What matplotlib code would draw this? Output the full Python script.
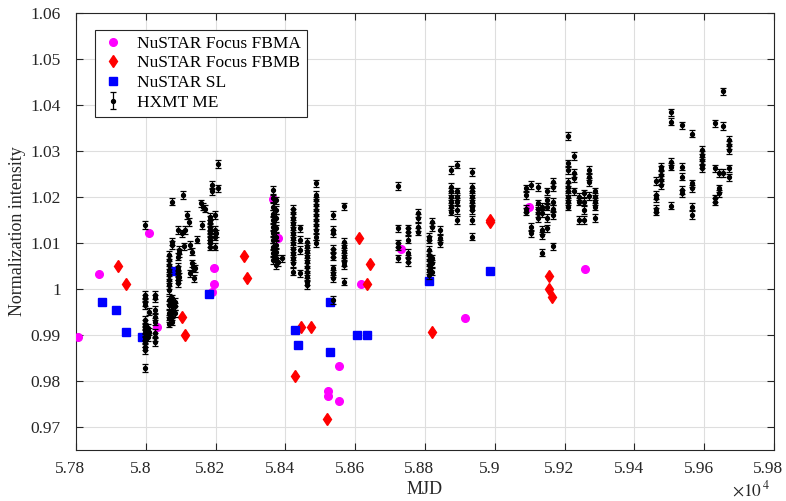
import numpy as np
import matplotlib
matplotlib.use("Agg")
import matplotlib.pyplot as plt
import matplotlib.transforms as mtransforms
from matplotlib.ticker import FuncFormatter

plt.rcParams['font.family'] = ['Liberation Serif', 'DejaVu Serif']
plt.rcParams['mathtext.fontset'] = 'stix'

# NuSTAR Focus FBMA
fbma_mjd = [57805, 57867, 58009, 58031, 58196, 58196, 58189, 58365, 58380,
            58523, 58523, 58554, 58554, 58618, 58730, 58915, 59097, 59259]
fbma_int = [0.9895, 1.0033, 1.0122, 0.9917, 1.0045, 1.0011, 0.9994, 1.0195, 1.011,
            0.9778, 0.9767, 0.9757, 0.9833, 1.0011, 1.0088, 0.9938, 1.0178, 1.0044]

# NuSTAR Focus FBMB
fbmb_mjd = [57920, 57943, 58105, 58112, 58280, 58289, 58427, 58444, 58474, 58520,
            58611, 58635, 58642, 58819, 58987, 58987, 59156, 59156, 59165]
fbmb_int = [1.005, 1.0011, 0.9939, 0.99, 1.0072, 1.0023, 0.9811, 0.9917, 0.9917, 0.9717,
            1.0111, 1.0011, 1.0055, 0.9906, 1.0149, 1.0145, 1.0028, 1.0, 0.9983]

# NuSTAR SL
sl_mjd = [57874, 57914, 57943, 57988, 58079, 58181, 58427, 58435, 58528, 58528,
          58604, 58635, 58811, 58987]
sl_int = [0.9972, 0.9955, 0.9906, 0.9895, 1.0039, 0.999, 0.9911, 0.9878, 0.9972, 0.9862,
          0.99, 0.99, 1.0017, 1.0039]

# HXMT ME: epochs and the intensities observed around each epoch
me_epochs = [57997, 58005, 58010, 58026, 58067, 58074, 58084, 58093, 58096, 58103,
             58107, 58110, 58112, 58117, 58124, 58127, 58131, 58133, 58136, 58139,
             58141, 58146, 58157, 58160, 58165, 58170, 58184, 58189, 58198, 58201,
             58206, 58208,
             58364, 58373, 58380, 58389, 58421, 58442, 58463, 58487, 58535, 58569,
             58723, 58752, 58781, 58812, 58821, 58843, 58874, 58892, 58934,
             59089, 59104, 59123, 59134, 59149, 59166, 59209, 59227, 59242, 59255,
             59271, 59287,
             59461, 59476, 59505, 59536, 59565, 59594, 59631, 59643, 59655, 59670]
me_groups = [
    [1.0139, 0.9987, 0.998, 0.9972, 0.9965, 0.9933, 0.9925, 0.9918, 0.9911, 0.9904,
     0.9896, 0.9889, 0.9882, 0.9875, 0.9867, 0.9828],
    [0.9915, 0.9895],
    [0.9951, 0.9907],
    [0.9987, 0.998, 0.9954, 0.994, 0.9929, 0.9904, 0.9896, 0.9885],
    [1.0074, 1.0063, 1.0052, 1.0041, 1.003, 1.002, 1.0009, 0.9998, 0.9976, 0.9965,
     0.9947, 0.9936, 0.9925],
    [1.019, 1.0103, 1.0096, 0.998, 0.9969, 0.9962, 0.9954, 0.994, 0.9929],
    [0.9972, 0.9962, 0.9947],
    [1.0128, 1.0048, 1.0041, 1.0034, 1.0027, 1.002, 1.0012, 1.007],
    [1.0085, 1.0078, 1.0027],
    [1.0121],
    [1.0204],
    [1.0093],
    [1.0128],
    [1.0161],
    [1.0146],
    [1.0096, 1.0034],
    [1.0081],
    [1.0056],
    [1.0048],
    [1.0023],
    [1.0045],
    [1.0107],
    [1.0186],
    [1.0139],
    [1.0179],
    [1.0175],
    [1.0157, 1.015, 1.0143, 1.0135, 1.0128, 1.0121, 1.0114, 1.0107, 1.0099, 1.0092],
    [1.0226, 1.0212],
    [1.0161, 1.0128, 1.0114, 1.0092],
    [1.0121],
    [1.0272],
    [1.0219],
    [1.0215, 1.0197, 1.0179, 1.0164, 1.015, 1.0135, 1.0121, 1.0107, 1.0092, 1.0078, 1.0063],
    [1.0193, 1.0172, 1.0154, 1.0132, 1.0114, 1.0096, 1.0081, 1.0067, 1.0052],
    [1.0059],
    [1.0067],
    [1.0175, 1.0165, 1.0154, 1.0143, 1.0132, 1.0121, 1.011, 1.0099, 1.0088, 1.0078,
     1.0067, 1.0056, 1.0038],
    [1.0132, 1.0107, 1.0085, 1.0034],
    [1.0103, 1.0092, 1.0081, 1.007, 1.0059, 1.0048, 1.0038, 1.0027, 1.0016, 1.0009],
    [1.023, 1.0204, 1.0193, 1.0183, 1.0172, 1.0161, 1.015, 1.0139, 1.0128, 1.0114, 1.0099],
    [1.0161, 1.0128, 1.0121, 1.0088, 1.0078, 1.007, 1.0045, 1.0034, 1.0023, 0.9976],
    [1.018, 1.0103, 1.0092, 1.0081, 1.007, 1.0059, 1.0052, 1.0016],
    [1.0224, 1.0132, 1.0099, 1.0092, 1.0067],
    [1.0132, 1.0125, 1.0107, 1.0078, 1.0067, 1.0059],
    [1.0165, 1.0154, 1.0135, 1.0125],
    [1.0114, 1.0107, 1.0085, 1.0074, 1.0063, 1.0052, 1.0041, 1.003],
    [1.0146, 1.0135, 1.0067, 1.0056, 1.0038],
    [1.0128, 1.011, 1.0099],
    [1.0259, 1.0222, 1.0212, 1.0201, 1.019, 1.0179, 1.0168],
    [1.027, 1.0212, 1.0201, 1.019, 1.0172, 1.015],
    [1.0254, 1.0222, 1.0212, 1.0201, 1.019, 1.0179, 1.0172, 1.015, 1.0114],
    [1.0219, 1.0204, 1.0175, 1.0168],
    [1.0226, 1.0135, 1.0121],
    [1.0222, 1.0186, 1.0175, 1.0165, 1.0154],
    [1.0179, 1.0165, 1.0128, 1.0117, 1.0079],
    [1.0212, 1.0193, 1.0179, 1.0154, 1.0132],
    [1.0233, 1.0222, 1.019, 1.0175, 1.0161, 1.0093],
    [1.0333, 1.0273, 1.0259, 1.0233, 1.0222, 1.0212, 1.0201, 1.019, 1.0179],
    [1.0289, 1.0252, 1.0241, 1.0212],
    [1.0201, 1.019, 1.015],
    [1.0208, 1.019, 1.0172, 1.015],
    [1.0259, 1.0244, 1.0233, 1.0202],
    [1.0212, 1.0201, 1.019, 1.0179, 1.0154],
    [1.0235, 1.0204, 1.0197, 1.0175, 1.0168],
    [1.0266, 1.0259, 1.0248, 1.0237, 1.0226],
    [1.0384, 1.0364, 1.0277, 1.0266, 1.0181],
    [1.0356, 1.0266, 1.0244, 1.0215, 1.0208],
    [1.0338, 1.023, 1.0219, 1.0179, 1.0161],
    [1.0302, 1.0291, 1.028, 1.027, 1.0262],
    [1.036, 1.0262, 1.0197, 1.019],
    [1.0252, 1.0219, 1.0208],
    [1.043, 1.0354, 1.0252],
    [1.0324, 1.0313, 1.0302, 1.0262, 1.0243],
]
me_err = 0.0008

me_mjd = np.repeat(me_epochs, [len(g) for g in me_groups])
me_int = np.concatenate(me_groups)

scale = 1e4
axcol = (0.15, 0.15, 0.15)

fig = plt.figure(figsize=(7.86, 5.01), dpi=100)
ax = fig.add_axes([0.0967, 0.1018, 0.8880, 0.8722])

ax.plot(np.array(fbma_mjd) / scale, fbma_int, 'o', color='magenta', ms=5.5,
        mec='magenta', label='NuSTAR Focus FBMA', zorder=3)
ax.plot(np.array(fbmb_mjd) / scale, fbmb_int, 'd', color='red', ms=6.5,
        mec='red', label='NuSTAR Focus FBMB', zorder=3)
ax.plot(np.array(sl_mjd) / scale, sl_int, 's', color='blue', ms=5.5,
        mec='blue', label='NuSTAR SL', zorder=3)
ax.errorbar(me_mjd / scale, me_int, yerr=me_err, fmt='o', color='black',
            ms=2.8, elinewidth=0.9, capsize=2, capthick=0.9,
            label='HXMT ME', zorder=4)

ax.set_xlim(5.78, 5.98)
ax.set_ylim(0.965, 1.06)
ax.set_xticks(np.arange(5.78, 5.981, 0.02))
ax.set_yticks(np.arange(0.97, 1.0601, 0.01))
fmt = FuncFormatter(lambda v, p: '%g' % round(v, 4))
ax.xaxis.set_major_formatter(fmt)
ax.yaxis.set_major_formatter(fmt)

ax.grid(True, color=(0.87, 0.87, 0.87), linewidth=0.8)
ax.set_axisbelow(True)
ax.tick_params(direction='in', top=True, right=True, length=5, width=0.8,
               colors=axcol, labelsize=12.5, labelcolor=axcol)
ax.tick_params(axis='x', pad=8)
ax.tick_params(axis='y', pad=11)
for s in ax.spines.values():
    s.set_color(axcol)
    s.set_linewidth(0.8)

# x tick labels sit slightly left of their ticks, as in the original
shift = mtransforms.ScaledTranslation(-4 / 72, 0, fig.dpi_scale_trans)
for lab in ax.get_xticklabels():
    lab.set_transform(lab.get_transform() + shift)

ax.set_xlabel('MJD', fontsize=13, color=axcol, labelpad=3)
ax.set_ylabel('Normalization intensity', fontsize=13, color=axcol, labelpad=3)
ax.text(0.994, -0.092, r'$\times 10^{\,4}$', transform=ax.transAxes,
        ha='right', va='center', fontsize=12.5, color=axcol)

leg = ax.legend(loc='upper left', bbox_to_anchor=(0.027, 0.962), fontsize=12.5,
                frameon=True, fancybox=False, edgecolor=axcol, framealpha=1,
                borderpad=0.35, labelspacing=0.2, handletextpad=0.7,
                handlelength=1.4, borderaxespad=0)
leg.get_frame().set_linewidth(0.8)

fig.savefig('out.png', dpi=100)
